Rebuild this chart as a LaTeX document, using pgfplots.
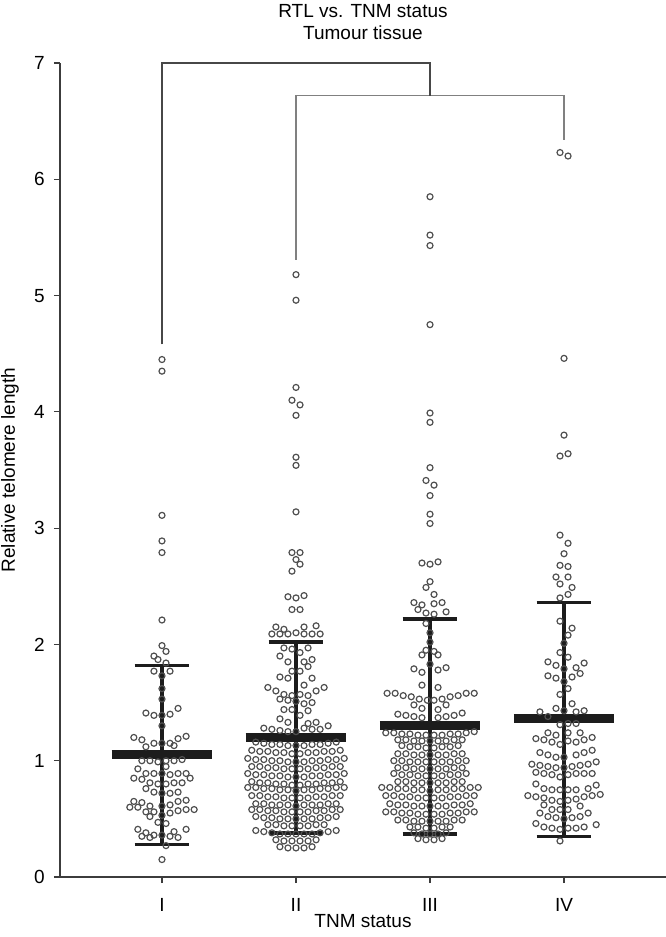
\documentclass[border=0pt]{standalone}
\usepackage{fontspec}
\setmainfont{Liberation Sans}
\usepackage{pgfplots}
\pgfplotsset{compat=1.18}
\definecolor{ptc}{HTML}{4F4F4F}
\definecolor{barc}{HTML}{1C1C1C}
\definecolor{axc}{HTML}{3C3C3C}
\pgfplotsset{
 dots/.style={only marks, mark=o, mark size=1.5bp, mark options={draw=ptc, line width=0.6bp}},
 vline/.style={no marks, draw=barc, line width=1.9bp},
 cap/.style={no marks, draw=barc, line width=1.8bp},
 mean/.style={no marks, draw=barc, line width=4.6bp},
}
\begin{document}
\begin{tikzpicture}[font=\fontsize{9.5bp}{11bp}\selectfont]
\begin{axis}[
 scale only axis, width=303bp, height=407bp,
 xmin=0.239, xmax=4.761, ymin=0, ymax=7,
 axis lines=left,
 axis line style={-, draw=axc, line width=0.6bp},
 every tick/.style={draw=axc, line width=0.6bp},
 tick align=outside, major tick length=3bp,
 xtick={1,2,3,4}, xticklabels={I,II,III,IV},
 ytick={0,1,2,3,4,5,6,7},
 /pgf/number format/assume math mode=true,
 xticklabel style={anchor=base, inner sep=0pt, yshift=-14bp},
 yticklabel style={anchor=east, inner sep=0pt, xshift=-4.5bp},
 clip=false,
]
\coordinate (ll) at (rel axis cs:0,0);
% Group I
\addplot[dots] coordinates {
(1,4.45) (1,4.35) (1,3.11) (1,2.89) (1,2.79) (1,2.21)
(1,1.99) (1.03,1.94) (0.94,1.90) (0.97,1.87) (1.03,1.84) (0.94,1.77) (1.06,1.77) (1,1.73) (1,1.62) (1,1.53)
(0.88,1.41) (0.94,1.39) (1,1.39) (1.06,1.40) (1.12,1.45) (1,1.30)
(0.79,1.20) (0.85,1.18) (0.88,1.12) (0.94,1.15) (1,1.15) (1.06,1.15) (1.09,1.13) (1.12,1.19) (1.18,1.21)
(0.85,1.00) (0.91,1.00) (0.97,0.99) (1.03,1.00) (1.09,1.00) (1.15,1.01)
(1.03,0.95) (0.82,0.93)
(0.88,0.89) (0.94,0.89) (1,0.89) (1.06,0.88) (1.12,0.89) (1.18,0.89)
(0.79,0.85) (0.85,0.84) (0.91,0.81) (0.97,0.80) (1.03,0.80) (1.09,0.81) (1.15,0.81) (1.21,0.85)
(0.88,0.76) (0.94,0.73) (1,0.72) (1.06,0.72) (1.12,0.73)
(0.79,0.65) (0.85,0.64) (0.91,0.61) (0.76,0.60) (0.82,0.60) (0.88,0.56) (0.94,0.56) (1,0.61) (1.06,0.62) (1.12,0.65) (1.18,0.66)
(0.91,0.52) (1,0.53) (1.06,0.55) (1.12,0.57) (1.18,0.58) (1.24,0.58)
(0.97,0.47) (1.03,0.46)
(0.82,0.41) (0.88,0.38) (0.94,0.36) (1,0.36) (1.09,0.39) (1.18,0.41)
(0.85,0.35) (0.91,0.34) (1.06,0.35) (1.12,0.34)
(1.03,0.27) (1,0.15)
};
% Group II
\addplot[dots] coordinates {
(2,5.18) (2,4.96) (2,4.21) (1.97,4.10) (2.03,4.06) (2,3.97) (2,3.61) (2,3.54) (2,3.14) (1.97,2.79) (2.03,2.79) (2,2.73) (2.03,2.69) (1.97,2.63) (1.94,2.41) (2,2.40) (2.06,2.42) (1.97,2.30) (2.03,2.30)
(1.85,2.15) (1.91,2.13) (2.06,2.15) (2.15,2.16)
(1.82,2.09) (1.88,2.09) (1.94,2.09) (2,2.10) (2.06,2.09) (2.12,2.09) (2.18,2.09)
(1.91,1.97) (1.97,1.96) (2.09,1.97) (2.03,1.93) (1.88,1.90) (2.12,1.87) (1.94,1.85) (2.06,1.85) (2.09,1.81) (1.97,1.77) (2.03,1.77) (1.88,1.72) (1.94,1.71) (2.12,1.71) (2.06,1.65)
(1.79,1.63) (1.85,1.60) (1.91,1.57) (1.97,1.56) (2.03,1.57) (2.09,1.56) (2.15,1.60) (2.21,1.63)
(1.88,1.53) (1.94,1.52) (2,1.51) (2.06,1.49) (2.12,1.50)
(1.91,1.44) (1.97,1.44) (2.09,1.43) (2.03,1.39)
(1.88,1.36) (1.94,1.33) (2.09,1.32) (2.15,1.33)
(1.76,1.28) (1.82,1.27) (1.88,1.26) (1.94,1.25) (2,1.25) (2.06,1.28) (2.12,1.27) (2.18,1.27) (2.24,1.30)
(1.70,1.16) (1.76,1.15) (1.82,1.14) (1.88,1.14) (1.94,1.13) (2.00,1.13) (2.06,1.13) (2.12,1.14) (2.18,1.14) (2.24,1.15) (2.30,1.16)
(1.67,1.09) (1.73,1.08) (1.79,1.08) (1.85,1.07) (1.91,1.07) (1.97,1.06) (2.03,1.06) (2.09,1.07) (2.15,1.07) (2.21,1.08) (2.27,1.08) (2.33,1.09)
(1.64,1.02) (1.70,1.01) (1.76,1.01) (1.82,1.00) (1.88,1.00) (1.94,0.99) (2.00,0.99) (2.06,0.99) (2.12,1.00) (2.18,1.00) (2.24,1.01) (2.30,1.01) (2.36,1.02)
(1.67,0.95) (1.73,0.95) (1.79,0.94) (1.85,0.94) (1.91,0.93) (1.97,0.93) (2.03,0.93) (2.09,0.93) (2.15,0.94) (2.21,0.94) (2.27,0.95) (2.33,0.95)
(1.64,0.89) (1.70,0.88) (1.76,0.88) (1.82,0.87) (1.88,0.87) (1.94,0.86) (2.00,0.86) (2.06,0.86) (2.12,0.87) (2.18,0.87) (2.24,0.88) (2.30,0.88) (2.36,0.89)
(1.67,0.82) (1.73,0.81) (1.79,0.81) (1.85,0.80) (1.91,0.80) (1.97,0.79) (2.03,0.79) (2.09,0.80) (2.15,0.80) (2.21,0.81) (2.27,0.81) (2.33,0.82)
(1.64,0.77) (1.70,0.77) (1.76,0.76) (1.82,0.76) (1.88,0.75) (1.94,0.75) (2.00,0.74) (2.06,0.75) (2.12,0.75) (2.18,0.76) (2.24,0.76) (2.30,0.77) (2.36,0.77)
(1.67,0.70) (1.73,0.70) (1.79,0.69) (1.85,0.69) (1.91,0.68) (1.97,0.68) (2.03,0.68) (2.09,0.68) (2.15,0.69) (2.21,0.69) (2.27,0.70) (2.33,0.70)
(1.70,0.63) (1.76,0.63) (1.82,0.62) (1.88,0.62) (1.94,0.62) (2.00,0.61) (2.06,0.62) (2.12,0.62) (2.18,0.62) (2.24,0.63) (2.30,0.63)
(1.67,0.58) (1.73,0.58) (1.79,0.57) (1.85,0.57) (1.91,0.56) (1.97,0.56) (2.03,0.56) (2.09,0.56) (2.15,0.57) (2.21,0.57) (2.27,0.58) (2.33,0.58)
(1.70,0.52) (1.76,0.51) (1.82,0.51) (1.88,0.50) (1.94,0.50) (2.00,0.50) (2.06,0.50) (2.12,0.50) (2.18,0.51) (2.24,0.51) (2.30,0.52)
(1.79,0.45) (1.85,0.45) (1.91,0.44) (1.97,0.44) (2.03,0.44) (2.09,0.44) (2.15,0.45) (2.21,0.45)
(1.70,0.40) (1.76,0.39) (1.82,0.38) (1.88,0.37) (1.94,0.37) (2.00,0.37) (2.06,0.37) (2.12,0.37) (2.18,0.38) (2.24,0.39) (2.30,0.40)
(1.85,0.32) (1.91,0.31) (1.97,0.31) (2.03,0.31) (2.09,0.31) (2.15,0.32)
(1.88,0.26) (1.94,0.25) (2.00,0.25) (2.06,0.25) (2.12,0.26)
};
% Group III
\addplot[dots] coordinates {
(3,5.85) (3,5.52) (3,5.43) (3,4.75) (3,3.99) (3,3.91) (3,3.52) (2.97,3.41) (3.03,3.37) (3,3.28) (3,3.12) (3,3.04) (2.94,2.70) (3,2.69) (3.06,2.71)
(3,2.54) (2.97,2.49) (3.03,2.43) (2.88,2.36) (2.94,2.34) (3.03,2.35) (3.09,2.36) (2.91,2.30) (2.97,2.27) (3.03,2.26) (3.12,2.28)
(2.97,2.18) (3,2.10) (3,2.02) (2.97,1.95) (3.03,1.94) (2.94,1.91) (3.06,1.91)
(3,1.83) (2.88,1.79) (2.94,1.76) (3.06,1.78) (3.12,1.80) (2.94,1.65) (3.06,1.63)
(2.68,1.58) (2.74,1.58) (2.80,1.56) (2.86,1.55) (2.92,1.53) (2.98,1.52) (3.03,1.52) (3.09,1.53) (3.15,1.55) (3.21,1.56) (3.27,1.58) (3.33,1.58)
(2.88,1.48) (3.12,1.48) (2.94,1.45) (3.06,1.44)
(2.76,1.40) (2.82,1.39) (2.88,1.38) (2.94,1.37) (3.06,1.37) (3.12,1.38) (3.18,1.39) (3.24,1.41)
(2.67,1.24) (2.73,1.24) (2.79,1.23) (2.85,1.23) (2.91,1.22) (2.97,1.22) (3.03,1.22) (3.09,1.22) (3.15,1.23) (3.21,1.23) (3.27,1.24) (3.33,1.25)
(2.76,1.18) (2.82,1.18) (2.88,1.17) (2.94,1.17) (3.00,1.17) (3.06,1.17) (3.12,1.17) (3.18,1.18) (3.24,1.18)
(2.79,1.13) (2.85,1.12) (2.91,1.12) (2.97,1.11) (3.03,1.11) (3.09,1.12) (3.15,1.12) (3.21,1.13)
(2.76,1.06) (2.82,1.06) (2.88,1.05) (2.94,1.05) (3.00,1.05) (3.06,1.05) (3.12,1.05) (3.18,1.06) (3.24,1.06)
(2.73,1.00) (2.79,1.00) (2.85,0.99) (2.91,0.99) (2.97,0.99) (3.03,0.99) (3.09,0.99) (3.15,0.99) (3.21,1.00) (3.27,1.00)
(2.76,0.94) (2.82,0.94) (2.88,0.93) (2.94,0.93) (3.00,0.93) (3.06,0.93) (3.12,0.93) (3.18,0.94) (3.24,0.94)
(2.73,0.89) (2.79,0.88) (2.85,0.88) (2.91,0.87) (2.97,0.87) (3.03,0.87) (3.09,0.87) (3.15,0.88) (3.21,0.88) (3.27,0.89)
(2.76,0.82) (2.82,0.82) (2.88,0.81) (2.94,0.81) (3.00,0.81) (3.06,0.81) (3.12,0.81) (3.18,0.82) (3.24,0.82)
(2.64,0.77) (2.70,0.77) (2.76,0.76) (2.82,0.76) (2.88,0.75) (2.94,0.75) (3.00,0.74) (3.06,0.75) (3.12,0.75) (3.18,0.76) (3.24,0.76) (3.30,0.77) (3.36,0.77)
(2.67,0.70) (2.73,0.70) (2.79,0.69) (2.85,0.69) (2.91,0.68) (2.97,0.68) (3.03,0.68) (3.09,0.68) (3.15,0.69) (3.21,0.69) (3.27,0.70) (3.33,0.70)
(2.70,0.63) (2.76,0.62) (2.82,0.62) (2.88,0.61) (2.94,0.61) (3.00,0.61) (3.06,0.61) (3.12,0.61) (3.18,0.62) (3.24,0.62) (3.30,0.63)
(2.67,0.56) (2.73,0.56) (2.79,0.55) (2.85,0.55) (2.91,0.54) (2.97,0.54) (3.03,0.54) (3.09,0.54) (3.15,0.55) (3.21,0.55) (3.27,0.56) (3.33,0.56)
(2.76,0.49) (2.82,0.49) (2.88,0.48) (2.94,0.48) (3.00,0.48) (3.06,0.48) (3.12,0.48) (3.18,0.49) (3.24,0.49)
(2.85,0.43) (2.91,0.43) (2.97,0.42) (3.03,0.42) (3.09,0.43) (3.15,0.43)
(2.88,0.38) (2.94,0.37) (3.00,0.37) (3.06,0.37) (3.12,0.38)
(2.91,0.33) (2.97,0.32) (3.03,0.32) (3.09,0.33)
};
% Group IV
\addplot[dots] coordinates {
(3.97,6.23) (4.03,6.20) (4,4.46) (4,3.80) (3.97,3.62) (4.03,3.64) (3.97,2.94) (4.03,2.87) (4,2.78) (3.97,2.68) (4.03,2.67) (3.94,2.58) (4.03,2.58) (3.97,2.52) (4.06,2.49) (4.03,2.43) (3.97,2.40)
(3.97,2.20) (4.06,2.14) (4.03,2.08) (4,2.01) (3.97,1.93) (4.03,1.89)
(3.88,1.85) (3.94,1.82) (4,1.79) (4.09,1.80) (4.15,1.84) (4.12,1.75)
(3.88,1.73) (3.94,1.71) (4,1.68) (4.06,1.72)
(4.03,1.62) (3.97,1.57) (4.06,1.49)
(3.82,1.42) (3.94,1.45) (4,1.43) (4.09,1.42) (4.15,1.43) (3.88,1.38)
(3.97,1.31) (4.03,1.32) (4.09,1.32)
(3.88,1.24) (3.94,1.22) (4.03,1.24) (4.12,1.24)
(3.79,1.19) (3.85,1.18) (3.91,1.16) (3.97,1.14) (4.03,1.17) (4.09,1.16) (4.15,1.18) (4.21,1.20)
(3.82,1.07) (3.88,1.05) (3.94,1.03) (4,1.03) (4.09,1.05) (4.15,1.07) (4.21,1.09)
(3.76,0.97) (3.82,0.96) (3.88,0.95) (3.94,0.94) (4,0.94) (4.06,0.95) (4.12,0.96) (4.18,0.97) (4.24,0.99)
(3.79,0.90) (3.85,0.89) (3.91,0.88) (3.97,0.86) (4.03,0.88) (4.09,0.89) (4.15,0.89) (4.21,0.89)
(3.79,0.80) (3.85,0.76) (3.91,0.75) (3.97,0.75) (4.03,0.75) (4.09,0.75) (4.18,0.76) (4.24,0.79)
(3.73,0.70) (3.79,0.69) (3.85,0.68) (3.91,0.66) (3.97,0.65) (4.03,0.66) (4.09,0.67) (4.15,0.69) (4.21,0.70) (4.27,0.71)
(3.85,0.62) (3.91,0.58) (3.97,0.58) (4.03,0.58) (4.12,0.61)
(3.82,0.55) (3.88,0.52) (3.94,0.51) (4,0.50) (4.06,0.51) (4.12,0.52) (4.18,0.55)
(3.79,0.46) (3.85,0.43) (3.91,0.42) (3.97,0.41) (4.03,0.42) (4.09,0.42) (4.15,0.43) (4.24,0.45)
(3.97,0.31)
};
% brackets
\addplot[no marks, draw=black!50, line width=0.75bp] coordinates {(2,5.31) (2,6.72) (4,6.72) (4,6.34)};
\addplot[no marks, draw=black!72, line width=0.75bp] coordinates {(1,4.58) (1,7) (3,7) (3,6.72)};
% error bars I
\addplot[vline] coordinates {(1,0.28) (1,1.82)};
\addplot[cap] coordinates {(0.795,0.28) (1.205,0.28)};
\addplot[cap] coordinates {(0.795,1.82) (1.205,1.82)};
\addplot[mean] coordinates {(0.625,1.055) (1.375,1.055)};
% II
\addplot[vline] coordinates {(2,0.38) (2,2.02)};
\addplot[cap] coordinates {(1.795,0.38) (2.205,0.38)};
\addplot[cap] coordinates {(1.795,2.02) (2.205,2.02)};
\addplot[mean] coordinates {(1.625,1.20) (2.375,1.20)};
% III
\addplot[vline] coordinates {(3,0.37) (3,2.22)};
\addplot[cap] coordinates {(2.795,0.37) (3.205,0.37)};
\addplot[cap] coordinates {(2.795,2.22) (3.205,2.22)};
\addplot[mean] coordinates {(2.625,1.30) (3.375,1.30)};
% IV
\addplot[vline] coordinates {(4,0.35) (4,2.36)};
\addplot[cap] coordinates {(3.795,0.35) (4.205,0.35)};
\addplot[cap] coordinates {(3.795,2.36) (4.205,2.36)};
\addplot[mean] coordinates {(3.625,1.36) (4.375,1.36)};
% texts
\node[anchor=base] at ([yshift=23bp]rel axis cs:0.5,1) {RTL vs. TNM status};
\node[anchor=base] at ([yshift=12bp]rel axis cs:0.5,1) {Tumour tissue};
\node[anchor=base] at ([yshift=-25bp]rel axis cs:0.5,0) {TNM status};
\node[rotate=90, anchor=center] at ([xshift=-25bp]rel axis cs:0,0.5) {Relative telomere length};
\end{axis}
\pgfresetboundingbox
\path ([xshift=-30bp,yshift=-30bp]ll) rectangle ([xshift=303bp,yshift=438.5bp]ll);
\end{tikzpicture}
\end{document}
